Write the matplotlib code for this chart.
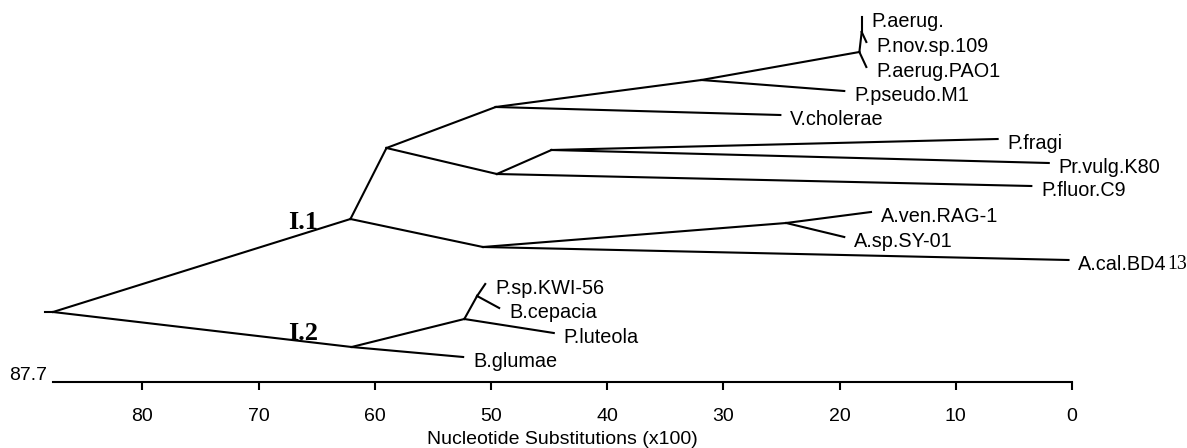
import matplotlib
matplotlib.use("Agg")
import matplotlib.pyplot as plt

# internal nodes: distance (x100 substitutions), vertical position, parent
node_names = ["root", "I1", "I2", "c1", "c2", "c3", "c4", "c5", "c6", "c7", "c8", "c9", "c10", "c11"]
node_dist = [87.7, 62.1, 62.0, 59.0, 49.6, 49.5, 31.9, 18.3, 18.1, 44.8, 50.7, 24.6, 52.3, 51.2]
node_y = [7.0, 16.3, 3.5, 23.4, 27.5, 20.8, 30.2, 33.0, 35.0, 23.2, 13.5, 15.9, 6.3, 8.6]
node_parent = [None, "root", "root", "I1", "c1", "c1", "c2", "c4", "c5", "c3", "I1", "c8", "I2", "c10"]

# leaves
leaf_names = ["P.aerug.", "P.nov.sp.109", "P.aerug.PAO1", "P.pseudo.M1", "V.cholerae",
              "P.fragi", "Pr.vulg.K80", "P.fluor.C9", "A.ven.RAG-1", "A.sp.SY-01",
              "A.cal.BD4", "P.sp.KWI-56", "B.cepacia", "P.luteola", "B.glumae"]
leaf_dist = [18.1, 17.7, 17.7, 19.6, 25.1, 6.4, 2.0, 3.5, 17.3, 19.6, 0.3, 50.5, 49.3, 44.6, 52.4]
leaf_y = [36.5, 34.0, 31.5, 29.1, 26.7, 24.3, 21.9, 19.6, 17.0, 14.5, 12.2, 9.8, 7.4, 4.9, 2.5]
leaf_parent = ["c6", "c6", "c5", "c4", "c2", "c7", "c7", "c3", "c9", "c9", "c8", "c11", "c11", "c10", "I2"]

ticks = [80, 70, 60, 50, 40, 30, 20, 10, 0]

pos = {n: (d, y) for n, d, y in zip(node_names, node_dist, node_y)}

fig = plt.figure(figsize=(11.87, 4.48), dpi=100)
ax = fig.add_axes([53 / 1187, 66 / 448, 1019 / 1187, 382 / 448])
ax.set_xlim(87.7, 0)
ax.set_ylim(0, 38.2)

lw = 1.5
fs = 14.3
# edges between internal nodes
for n, p in zip(node_names, node_parent):
    if p is None:
        continue
    x0, y0 = pos[p]
    x1, y1 = pos[n]
    ax.plot([x0, x1], [y0, y1], color="black", lw=lw, clip_on=False)

# root stub
rx, ry = pos["root"]
ax.plot([rx + 0.7, rx], [ry, ry], color="black", lw=lw, clip_on=False)

# leaf edges and names
for name, d, y, p in zip(leaf_names, leaf_dist, leaf_y, leaf_parent):
    x0, y0 = pos[p]
    ax.plot([x0, d], [y0, y], color="black", lw=lw, clip_on=False)
    t = ax.annotate(name, xy=(d, y), xytext=(7, -3), textcoords="offset points",
                    ha="left", va="center", fontsize=fs, family="Liberation Sans")
    if name == "A.cal.BD4":
        ax.annotate("13", xy=(1, 0), xycoords=t, ha="left", va="bottom",
                    fontsize=fs, family="Liberation Serif")

# cluster labels
ax.text(66.2, 16.0, "I.1", ha="center", va="center", fontsize=19,
        family="Liberation Serif", fontweight="bold")
ax.text(66.2, 4.9, "I.2", ha="center", va="center", fontsize=19,
        family="Liberation Serif", fontweight="bold")

# axis
for s in ["top", "right", "left"]:
    ax.spines[s].set_visible(False)
ax.spines["bottom"].set_linewidth(lw)
ax.set_yticks([])
ax.set_xticks(ticks)
ax.set_xticklabels([str(t) for t in ticks], family="Liberation Sans", fontsize=14)
ax.tick_params(axis="x", direction="out", length=5.8, width=lw, pad=13)
ax.set_xlabel("Nucleotide Substitutions (x100)", family="Liberation Sans",
              fontsize=14, labelpad=4)
ax.annotate("87.7", xy=(87.7, 0), xytext=(-4, 5), textcoords="offset points",
            ha="right", va="center", fontsize=14, family="Liberation Sans",
            annotation_clip=False)

fig.savefig("out.png", dpi=100)
